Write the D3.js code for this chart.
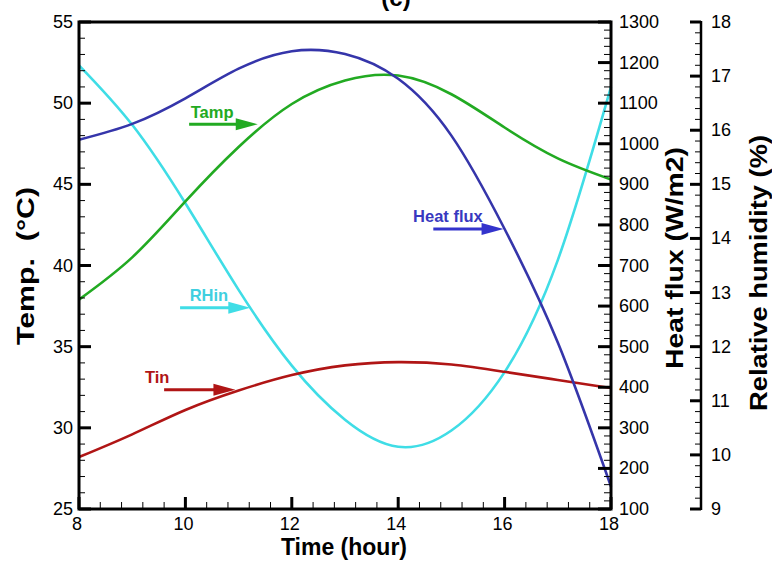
<!DOCTYPE html>
<html><head><meta charset="utf-8">
<script src="https://cdn.jsdelivr.net/npm/d3@7/dist/d3.min.js"></script>
<style>body{margin:0;background:#fff;} svg{display:block;font-family:"Liberation Sans",Arial,sans-serif;} .pre{white-space:pre;}</style>
</head><body>
<svg id="c" width="772" height="562"></svg>
<script>
// ---- data ----
const hours = [8, 9, 10, 11, 12, 13, 14, 15, 16, 17, 18];
const tinValues  = [28.2, 29.6, 31.1, 32.3, 33.25, 33.85, 34.05, 33.9, 33.45, 32.95, 32.45];
const tampValues = [37.9, 40.5, 43.95, 47.3, 49.95, 51.4, 51.7, 50.55, 48.5, 46.6, 45.3];
const rhinValues = [17.2, 16.1, 14.65, 13.05, 11.65, 10.65, 10.15, 10.45, 11.53, 13.6, 16.8];
const heatFluxValues = [1010, 1049, 1112, 1185, 1228, 1221, 1160, 1020, 790, 510, 155];
const timeTicks = [8, 10, 12, 14, 16, 18];
const tempTicks = [25, 30, 35, 40, 45, 50, 55];
const heatTicks = [100, 200, 300, 400, 500, 600, 700, 800, 900, 1000, 1100, 1200, 1300];
const rhTicks = [9, 10, 11, 12, 13, 14, 15, 16, 17, 18];

// ---- layout ----
const svg = d3.select("#c");
const L = 79, R = 611, T = 22, B = 509, RH_X = 701;
const x = d3.scaleLinear().domain([8, 18]).range([L, R]);
const yT = d3.scaleLinear().domain([25, 55]).range([B, T]);
const yH = d3.scaleLinear().domain([100, 1300]).range([B, T]);
const yR = d3.scaleLinear().domain([9, 18]).range([B, T]);

const colors = {tin: "#b01515", tamp: "#22aa22", rh: "#3fdde6", heat: "#3535aa"};

// title (clipped at top, as in the reference)
svg.append("text").attr("x", 396).attr("y", 6).attr("text-anchor", "middle")
  .attr("font-weight", "bold").attr("font-size", 24).text("(c)");

// curves
const series = [
  {vals: rhinValues, sc: yR, c: colors.rh},
  {vals: tampValues, sc: yT, c: colors.tamp},
  {vals: tinValues, sc: yT, c: colors.tin},
  {vals: heatFluxValues, sc: yH, c: colors.heat}
];
const g = svg.append("g");
series.forEach(s => {
  const line = d3.line().x((d, i) => x(hours[i])).y(d => s.sc(d)).curve(d3.curveNatural);
  g.append("path").attr("d", line(s.vals)).attr("fill", "none")
    .attr("stroke", s.c).attr("stroke-width", 2.6);
});

// axes helpers
function ticksV(xPos, scale, majors, minorStep, dir, majLen, minLen) {
  const [d0, d1] = scale.domain();
  d3.range(d0, d1 + minorStep / 2, minorStep).forEach(v => {
    svg.append("line").attr("x1", xPos).attr("x2", xPos + dir * minLen)
      .attr("y1", scale(v)).attr("y2", scale(v)).attr("stroke", "#000").attr("stroke-width", 1);
  });
  majors.forEach(v => {
    svg.append("line").attr("x1", xPos).attr("x2", xPos + dir * majLen)
      .attr("y1", scale(v)).attr("y2", scale(v)).attr("stroke", "#000").attr("stroke-width", 3);
  });
}
ticksV(L, yT, tempTicks, 1, 1, 12, 6);
ticksV(R, yH, heatTicks, 20, -1, 13, 7);
ticksV(RH_X, yR, rhTicks, 0.2, -1, 11, 6);
svg.append("line").attr("x1", RH_X).attr("x2", RH_X).attr("y1", T - 1).attr("y2", B + 1)
  .attr("stroke", "#000").attr("stroke-width", 2.5);
d3.range(8, 18.001, 0.4).forEach(v => {
  svg.append("line").attr("x1", x(v)).attr("x2", x(v)).attr("y1", B).attr("y2", B - 7)
    .attr("stroke", "#000").attr("stroke-width", 1);
});
timeTicks.forEach(v => {
  svg.append("line").attr("x1", x(v)).attr("x2", x(v)).attr("y1", B).attr("y2", B - 12)
    .attr("stroke", "#000").attr("stroke-width", 3);
});
svg.append("rect").attr("x", L).attr("y", T).attr("width", R - L).attr("height", B - T)
  .attr("fill", "none").attr("stroke", "#000").attr("stroke-width", 3);

// tick labels
const fs = 18;
tempTicks.forEach(v => svg.append("text").attr("x", L - 6).attr("y", yT(v) + 6)
  .attr("text-anchor", "end").attr("font-size", fs).text(v));
heatTicks.forEach(v => svg.append("text").attr("x", R + 8).attr("y", yH(v) + 6)
  .attr("font-size", fs).text(v));
rhTicks.forEach(v => svg.append("text").attr("x", RH_X + 10).attr("y", yR(v) + 6)
  .attr("font-size", fs).text(v));
timeTicks.forEach(v => svg.append("text").attr("x", x(v) - 2).attr("y", B + 21)
  .attr("text-anchor", "middle").attr("font-size", fs).text(v));

// axis titles
svg.append("text").attr("x", 344).attr("y", 555).attr("text-anchor", "middle")
  .attr("font-weight", "bold").attr("font-size", 23).text("Time (hour)");
function vTitle(tx, ty, txt, len) {
  svg.append("text").attr("class", "pre").attr("transform", `translate(${tx},${ty}) rotate(-90)`)
    .attr("text-anchor", "middle").attr("font-weight", "bold").attr("font-size", 23)
    .attr("textLength", len).attr("lengthAdjust", "spacingAndGlyphs").text(txt);
}
vTitle(34, 266, "Temp.  (°C)", 158);
vTitle(683, 258, "Heat flux (W/m2)", 222);
vTitle(767, 273, "Relative humidity (%)", 276);

// annotations (data coordinates)
const notes = [
  {label: "Tamp", c: colors.tamp, tc: colors.tamp, x0: 10.07, x1: 11.36, sc: yT, y: 48.7, tx: 10.1, dy: -6},
  {label: "RHin", c: colors.rh, tc: "#3fcfe0", x0: 9.9, x1: 11.22, sc: yR, y: 12.72, tx: 10.08, dy: -7},
  {label: "Tin", c: colors.tin, tc: colors.tin, x0: 9.6, x1: 10.94, sc: yT, y: 32.35, tx: 9.24, dy: -7},
  {label: "Heat flux", c: "#3333cc", tc: "#3838c0", x0: 14.66, x1: 15.98, sc: yH, y: 790, tx: 14.28, dy: -7}
];
notes.forEach(n => {
  const yy = n.sc(n.y), xa = x(n.x0), xb = x(n.x1);
  svg.append("line").attr("x1", xa).attr("x2", xb - 16).attr("y1", yy).attr("y2", yy)
    .attr("stroke", n.c).attr("stroke-width", 3);
  svg.append("path").attr("d", `M${xb},${yy} L${xb - 22},${yy - 6} L${xb - 22},${yy + 6} Z`)
    .attr("fill", n.c);
  svg.append("text").attr("x", x(n.tx)).attr("y", yy + n.dy).attr("font-size", 16.5)
    .attr("font-weight", "bold").attr("fill", n.tc).text(n.label);
});
</script>
</body></html>
